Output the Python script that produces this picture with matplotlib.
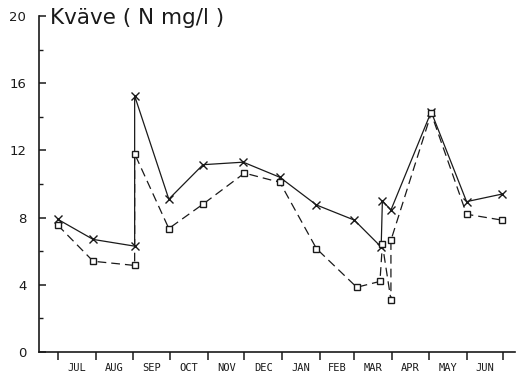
import numpy as np
import matplotlib
matplotlib.use("Agg")
import matplotlib.pyplot as plt
from matplotlib.ticker import FixedLocator, NullFormatter, FixedFormatter

# months (Jul -> Jun), x axis in days from 1 Jul
months = ["JUL", "AUG", "SEP", "OCT", "NOV", "DEC", "JAN", "FEB", "MAR", "APR", "MAY", "JUN"]
month_start = [0, 31, 62, 92, 123, 153, 184, 215, 243, 274, 304, 335, 365]

# series
days_x = [0, 29, 63, 63, 91, 119, 152, 182, 212, 243, 265, 266, 273, 306, 335, 364]
kvave_x = [7.9, 6.7, 6.3, 15.25, 9.1, 11.15, 11.3, 10.4, 8.75, 7.85, 6.25, 9.0, 8.45, 14.3, 8.95, 9.4]

days_sq = [0, 29, 63, 63, 91, 119, 153, 182, 212, 245, 264, 266, 273, 273, 306, 335, 364]
kvave_sq = [7.55, 5.4, 5.15, 11.8, 7.35, 8.8, 10.65, 10.1, 6.15, 3.85, 4.2, 6.4, 3.1, 6.65, 14.2, 8.2, 7.85]

ylabels = [0, 4, 8, 12, 16, 20]

fig = plt.figure(figsize=(5.18, 3.74), dpi=100)
ax = fig.add_axes([0.075, 0.059, 0.92, 0.898])

col = "#1a1a1a"
ax.plot(days_x, kvave_x, color=col, lw=0.9, marker="x", ms=5.5, mew=1.0)
ax.plot(days_sq, kvave_sq, color=col, lw=0.9, ls=(0, (7, 4)), marker="s", ms=4.5,
        mfc="white", mec=col, mew=1.0)

ax.set_xlim(-15.5, 375)
ax.set_ylim(0, 20)

for s in ["top", "right"]:
    ax.spines[s].set_visible(False)
ax.spines["left"].set_linewidth(1.2)
ax.spines["bottom"].set_linewidth(1.2)
ax.spines["left"].set_color(col)
ax.spines["bottom"].set_color(col)

# y ticks
ax.yaxis.set_major_locator(FixedLocator(ylabels))
ax.yaxis.set_minor_locator(FixedLocator([2, 6, 10, 14, 18]))
ax.set_yticklabels([str(v) for v in ylabels], fontsize=9.5, family="DejaVu Sans")
ax.tick_params(axis="y", which="major", direction="in", length=5, width=1.1, pad=9, colors=col)
ax.tick_params(axis="y", which="minor", direction="in", length=3, width=1.0, colors=col)

# x ticks at month boundaries, labels mid-month
mids = [(month_start[i] + month_start[i + 1]) / 2 for i in range(12)]
ax.xaxis.set_major_locator(FixedLocator(month_start))
ax.xaxis.set_major_formatter(NullFormatter())
ax.xaxis.set_minor_locator(FixedLocator(mids))
ax.xaxis.set_minor_formatter(FixedFormatter(months))
ax.tick_params(axis="x", which="major", direction="out", length=6, width=1.1, colors=col)
ax.tick_params(axis="x", which="minor", length=0, pad=8, labelsize=7.5, colors=col)
for t in ax.xaxis.get_minorticklabels():
    t.set_family("DejaVu Sans Mono")

fig.text(50 / 518, 1 - 18.5 / 374, "Kväve ( N mg/l )", fontsize=15.5, color=col,
         ha="left", va="center", family="DejaVu Sans")

fig.savefig("out.png", dpi=100)
